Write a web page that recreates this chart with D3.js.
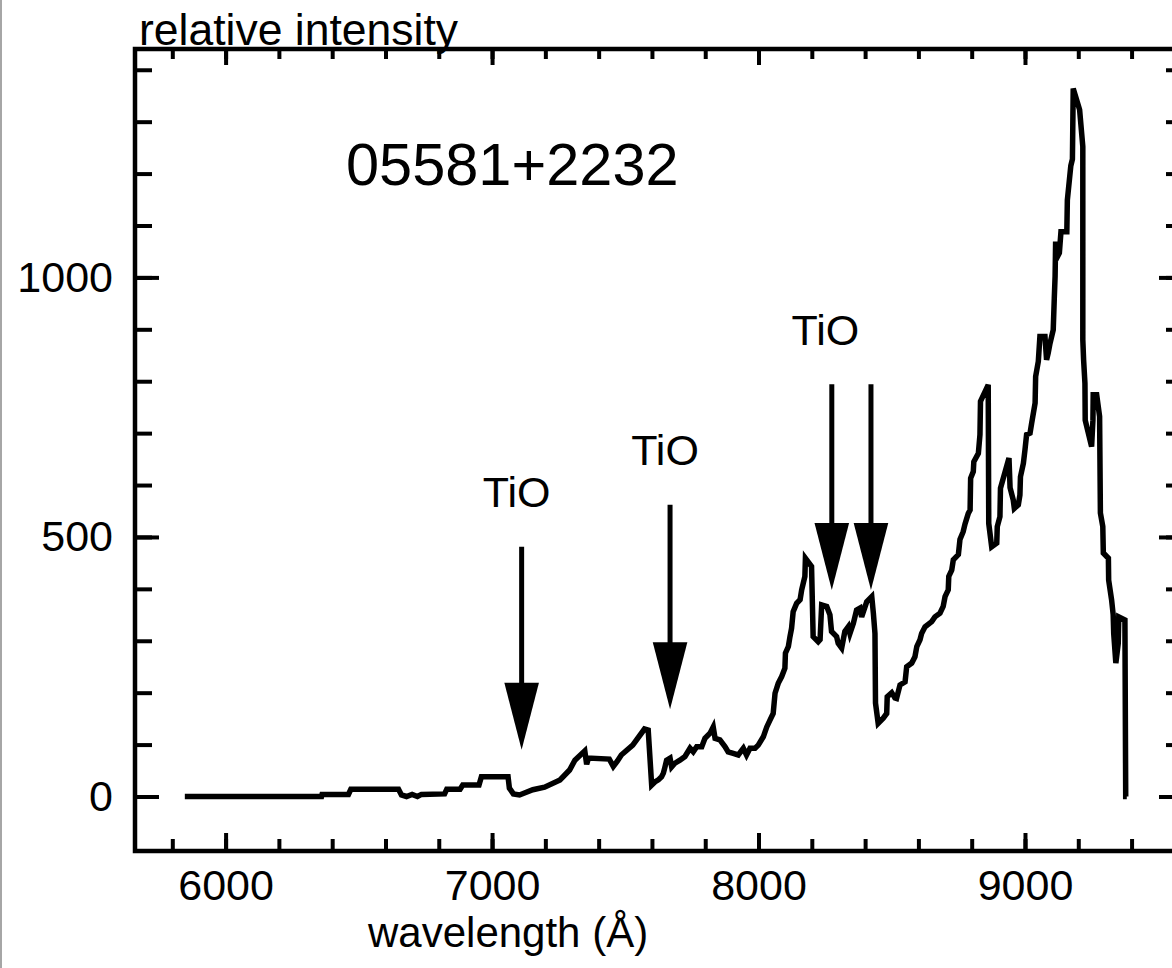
<!DOCTYPE html>
<html>
<head>
<meta charset="utf-8">
<script src="https://cdn.jsdelivr.net/npm/d3@7"></script>
<style>
  body { margin: 0; background: #fff; }
  svg { display: block; }
  text { font-family: "Liberation Sans", Arial, Helvetica, sans-serif; fill: #000; }
</style>
</head>
<body>
<div id="chart"></div>
<script>
// spectrum of 05581+2232: [wavelength (A), relative intensity]
const spectrum = [
  [5847, 0], [6360, 0], [6362, 4], [6461, 4], [6470, 14], [6649, 14], [6660, 3], [6679, 0],
  [6700, 4], [6720, 0], [6735, 4], [6822, 5], [6830, 14], [6880, 14], [6890, 22], [6951, 22],
  [6960, 38], [7060, 38], [7065, 16], [7080, 5], [7103, 3], [7153, 13], [7197, 18], [7255, 32],
  [7291, 51], [7311, 70], [7348, 88], [7355, 62], [7362, 74], [7440, 72], [7455, 58], [7470, 68],
  [7485, 80], [7528, 99], [7572, 130], [7586, 128], [7599, 22], [7611, 28], [7624, 32], [7636, 38],
  [7643, 45], [7649, 57], [7655, 70], [7668, 74], [7674, 57], [7686, 64], [7705, 70], [7724, 77],
  [7743, 93], [7755, 86], [7768, 96], [7787, 96], [7799, 112], [7818, 122], [7830, 134], [7837, 112],
  [7855, 109], [7874, 96], [7886, 86], [7905, 83], [7924, 80], [7943, 93], [7955, 80], [7968, 93],
  [7987, 93], [7999, 99], [8018, 115], [8031, 134], [8043, 147], [8055, 160], [8062, 199], [8074, 218],
  [8087, 231], [8099, 247], [8101, 276], [8112, 289], [8118, 308], [8124, 324], [8130, 356], [8143, 372],
  [8156, 379], [8162, 398], [8168, 411], [8174, 424], [8176, 459], [8199, 443], [8205, 308], [8224, 298],
  [8231, 302], [8237, 369], [8256, 366], [8268, 350], [8274, 318], [8293, 308], [8299, 295], [8312, 286],
  [8324, 318], [8337, 327], [8343, 314], [8356, 334], [8368, 359], [8381, 363], [8387, 346], [8406, 375],
  [8425, 385], [8431, 353], [8437, 314], [8439, 180], [8449, 141], [8468, 151], [8481, 160], [8483, 192],
  [8500, 200], [8512, 190], [8518, 189], [8531, 215], [8550, 221], [8556, 250], [8575, 257], [8587, 269],
  [8594, 289], [8606, 302], [8612, 314], [8625, 327], [8650, 337], [8662, 346], [8681, 353], [8693, 366],
  [8700, 385], [8712, 398], [8714, 424], [8725, 436], [8731, 456], [8750, 466], [8756, 495], [8768, 510],
  [8775, 525], [8787, 545], [8794, 552], [8796, 613], [8806, 626], [8808, 645], [8825, 661], [8831, 697],
  [8833, 761], [8862, 793], [8864, 526], [8875, 481], [8894, 488], [8896, 520], [8906, 539], [8908, 594],
  [8940, 652], [8944, 595], [8956, 571], [8960, 555], [8975, 562], [8981, 581], [8983, 616], [8994, 642],
  [9000, 668], [9006, 697], [9019, 700], [9025, 719], [9038, 758], [9040, 809], [9050, 838], [9056, 886],
  [9075, 886], [9081, 841], [9087, 854], [9094, 873], [9106, 899], [9110, 960], [9113, 1002], [9115, 1069],
  [9122, 1040], [9129, 1047], [9135, 1088], [9157, 1088], [9159, 1149], [9172, 1215], [9178, 1228], [9181, 1364],
  [9205, 1323], [9217, 1252], [9217, 880], [9220, 841], [9225, 796], [9226, 725], [9250, 674], [9255, 725],
  [9256, 774], [9269, 774], [9280, 732], [9283, 546], [9292, 520], [9294, 469], [9313, 459], [9314, 417],
  [9325, 379], [9331, 350], [9333, 314], [9341, 257], [9350, 295], [9352, 346], [9375, 340], [9378, 0],
  [9382, 0]
];

// TiO band markers
const arrowWave = [7111, 7668, 8275, 8422];
const arrowTop = [481, 562, 794, 794];
const arrowTip = [90, 168, 398, 398];
const labelWave = [7092, 7649, 8251];
const labelLevel = [558, 638, 870];
const labelText = ["TiO", "TiO", "TiO"];

const xMajor = [6000, 7000, 8000, 9000];
const xMinor = d3.range(5800, 9600, 200);
const yMajor = [0, 500, 1000];
const yMinor = d3.range(0, 1500, 100);

const objectName = "05581+2232";
const xTitle = "wavelength (\u00c5)";
const yTitle = "relative intensity";

const W = 1172, H = 968;
const mLeft = 135, mRight = 1183, mTop = 49, mBottom = 851;

const svg = d3.select("#chart").append("svg")
  .attr("width", W)
  .attr("height", H);

const x = d3.scaleLinear().domain([5660, 9593]).range([mLeft, mRight]);
const y = d3.scaleLinear().domain([-105, 1440]).range([mBottom, mTop]);

// thin border at the page's left edge
svg.append("line")
  .attr("x1", 1).attr("x2", 1).attr("y1", 0).attr("y2", H)
  .attr("stroke", "#888").attr("stroke-width", 1.5);

function tickAxis(axis, pos, values, size) {
  const g = svg.append("g")
    .attr("transform", pos)
    .call(axis.tickValues(values).tickSize(size).tickFormat(""));
  g.select(".domain").remove();
  g.selectAll("line").attr("stroke", "#000").attr("stroke-width", 4);
}

// inward ticks on all four sides
tickAxis(d3.axisTop(x), `translate(0,${mBottom})`, xMinor, 12);
tickAxis(d3.axisTop(x), `translate(0,${mBottom})`, xMajor, 18);
tickAxis(d3.axisBottom(x), `translate(0,${mTop})`, xMinor, 10);
tickAxis(d3.axisBottom(x), `translate(0,${mTop})`, xMajor, 16);
tickAxis(d3.axisRight(y), `translate(${mLeft},0)`, yMinor, 17);
tickAxis(d3.axisRight(y), `translate(${mLeft},0)`, yMajor, 24);
tickAxis(d3.axisLeft(y), `translate(${mRight},0)`, yMinor, 17);
tickAxis(d3.axisLeft(y), `translate(${mRight},0)`, yMajor, 24);

// frame
svg.append("rect")
  .attr("x", mLeft).attr("y", mTop)
  .attr("width", mRight - mLeft).attr("height", mBottom - mTop)
  .attr("fill", "none").attr("stroke", "#000").attr("stroke-width", 4.5);

// tick labels
const xLab = svg.append("g")
  .attr("transform", `translate(0,${mBottom})`)
  .call(d3.axisBottom(x).tickValues(xMajor).tickSize(0).tickPadding(18).tickFormat(d3.format("d")));
xLab.select(".domain").remove();
xLab.selectAll("text").style("font-size", "43px").attr("fill", "#000");

const yLab = svg.append("g")
  .attr("transform", `translate(${mLeft},0)`)
  .call(d3.axisLeft(y).tickValues(yMajor).tickSize(0).tickPadding(22).tickFormat(d3.format("d")));
yLab.select(".domain").remove();
yLab.selectAll("text").style("font-size", "43px").attr("fill", "#000");

// spectrum
const line = d3.line().x(d => x(d[0])).y(d => y(d[1]));
svg.append("path")
  .datum(spectrum)
  .attr("d", line)
  .attr("fill", "none")
  .attr("stroke", "#000")
  .attr("stroke-width", 5.5)
  .attr("stroke-linejoin", "miter");

// arrows
const headLen = 67, headHalf = 17.3;
arrowWave.forEach((w, i) => {
  const ax = x(w), y0 = y(arrowTop[i]), y1 = y(arrowTip[i]);
  svg.append("line")
    .attr("x1", ax).attr("x2", ax).attr("y1", y0).attr("y2", y1 - headLen + 2)
    .attr("stroke", "#000").attr("stroke-width", 5);
  svg.append("path")
    .attr("d", `M${ax - headHalf},${y1 - headLen}L${ax + headHalf},${y1 - headLen}L${ax},${y1}Z`)
    .attr("fill", "#000");
});

svg.selectAll(".tio")
  .data(labelText)
  .enter().append("text")
  .attr("class", "tio")
  .attr("x", (d, i) => x(labelWave[i]))
  .attr("y", (d, i) => y(labelLevel[i]))
  .attr("text-anchor", "middle")
  .style("font-size", "43px")
  .text(d => d);

svg.append("text")
  .attr("x", 346).attr("y", 185)
  .style("font-size", "59.5px")
  .text(objectName);

svg.append("text")
  .attr("x", 139).attr("y", 45)
  .style("font-size", "44.5px")
  .text(yTitle);

svg.append("text")
  .attr("x", 368).attr("y", 947)
  .style("font-size", "42px")
  .text(xTitle);
</script>
</body>
</html>
